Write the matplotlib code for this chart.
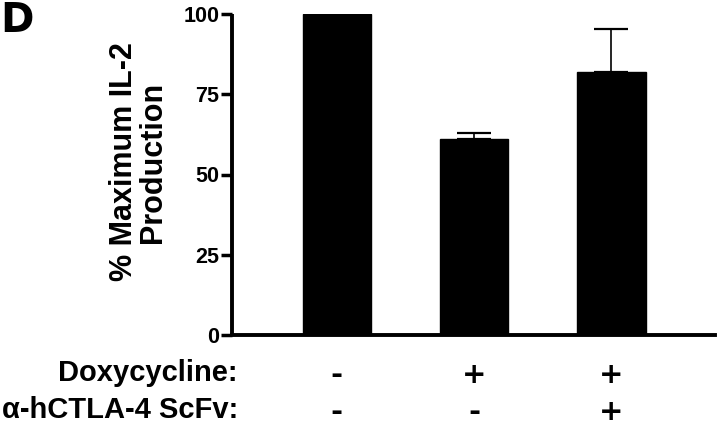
import matplotlib
matplotlib.use("Agg")
import matplotlib.pyplot as plt
import matplotlib.transforms as mtransforms
from matplotlib import font_manager

# ---- data ----
groups = ["ctrl", "dox", "dox+scfv"]
values = [100.0, 61.0, 81.9]
err_upper = [0.0, 1.8, 13.4]
dox_signs = ["-", "+", "+"]
scfv_signs = ["-", "-", "+"]
yticks = [0, 25, 50, 75, 100]
ylabel = "% Maximum IL-2\nProduction"
row_labels = ["Doxycycline:", "\u03b1-hCTLA-4 ScFv:"]
panel_letter = "D"

avail = {f.name for f in font_manager.fontManager.ttflist}
fam = [f for f in ["Liberation Sans Narrow", "Liberation Sans", "DejaVu Sans"] if f in avail]
plt.rcParams["font.family"] = fam
plt.rcParams["font.weight"] = "bold"

fig = plt.figure(figsize=(7.2, 4.25), dpi=100)
ax = fig.add_axes([232/720, 1 - 335/425, (715 - 232)/720, (335 - 14)/425])

x = list(range(len(groups)))
ax.bar(x, values, width=0.5, color="black", edgecolor="black", zorder=2)
ax.errorbar(x, values, yerr=[[0]*len(values), err_upper], fmt="none",
            ecolor="black", elinewidth=1.2, capsize=12.5, capthick=1.6, zorder=3)

ax.set_xlim(-0.764, 2.756)
ax.set_ylim(0, 100)
ax.set_yticks(yticks)
ax.set_yticklabels([str(t) for t in yticks], fontsize=15.5, fontweight="bold")
ax.set_xticks([])
for s in ["top", "right"]:
    ax.spines[s].set_visible(False)
for s in ["left", "bottom"]:
    ax.spines[s].set_linewidth(2.8)
ax.spines["left"].set_capstyle("butt")
ax.tick_params(axis="y", length=8, width=2.5, pad=1, direction="out")

ax.set_ylabel(ylabel, fontsize=22, fontweight="bold", linespacing=0.95)
ax.yaxis.set_label_coords(-0.1325, 0.539)

trans = mtransforms.blended_transform_factory(ax.transData, fig.transFigure)
for xi, s in zip(x, dox_signs):
    ax.text(xi, 1 - 375/425, s, transform=trans, ha="center", va="center",
            fontsize=21, fontweight="bold", family=["DejaVu Sans"])
for xi, s in zip(x, scfv_signs):
    ax.text(xi, 1 - 412/425, s, transform=trans, ha="center", va="center",
            fontsize=21, fontweight="bold", family=["DejaVu Sans"])

fig.text(238/720, 1 - 373/425, row_labels[0], ha="right", va="center",
         fontsize=21, fontweight="bold")
fig.text(238/720, 1 - 410/425, row_labels[1], ha="right", va="center",
         fontsize=21, fontweight="bold")
fig.text(0.0, 1 - 21/425, panel_letter, ha="left", va="center",
         fontsize=29, fontweight="bold", family=["DejaVu Sans"])

fig.savefig("out.png", dpi=100)
